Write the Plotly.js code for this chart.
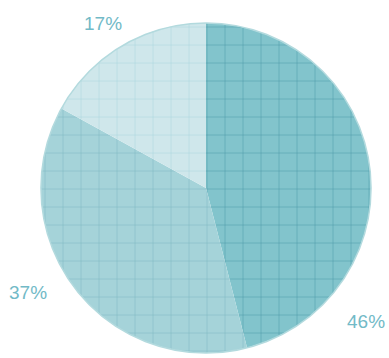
<!DOCTYPE html>
<html>
<head>
<meta charset="utf-8">
<script src="https://cdn.plot.ly/plotly-3.0.1.min.js"></script>
<style>html,body{margin:0;padding:0;background:#fff;}#chart{width:389px;height:358px;}</style>
</head>
<body>
<div id="chart"></div>
<script>
const categories = ["A", "B", "C"];
const values = [46, 37, 17];
const sliceColors = ["#82c4cc", "#a5d3d9", "#cfe7eb"];
const patternColors = ["#3d8f9e", "#6fb0bb", "#9ccfd6"];
const labelTexts = values.map(v => v + "%");
// label anchor positions (paper coords), placed like the reference
const labelPos = [[0.985, 0.094], [-0.039, 0.182], [0.188, 0.997]];

const trace = {
  type: "pie",
  labels: categories,
  values: values,
  sort: false,
  direction: "clockwise",
  rotation: 0,
  textinfo: "none",
  hoverinfo: "none",
  showlegend: false,
  marker: {
    colors: sliceColors,
    line: {width: 0},
    pattern: {shape: "+", fgcolor: patternColors, bgcolor: sliceColors, fgopacity: 0.75, size: 18, solidity: 0.06}
  },
  domain: {x: [0, 1], y: [0, 1]}
};
const outline = {
  type: "pie",
  values: [1],
  textinfo: "none",
  hoverinfo: "none",
  showlegend: false,
  marker: {colors: ["rgba(0,0,0,0)"], line: {color: "#b3dade", width: 1.5}},
  domain: {x: [0, 1], y: [0, 1]}
};
const annotations = labelTexts.map((t, i) => ({
  text: t, xref: "paper", yref: "paper", x: labelPos[i][0], y: labelPos[i][1],
  showarrow: false, xanchor: "center", yanchor: "middle",
  font: {family: "Liberation Sans, Arial, sans-serif", size: 19, color: "#72bac7"}
}));
const layout = {
  width: 389, height: 358,
  margin: {l: 41, r: 18, t: 23, b: 5},
  paper_bgcolor: "#ffffff",
  plot_bgcolor: "#ffffff",
  annotations: annotations
};
Plotly.newPlot("chart", [trace, outline], layout, {displayModeBar: false, staticPlot: true});
</script>
</body>
</html>
